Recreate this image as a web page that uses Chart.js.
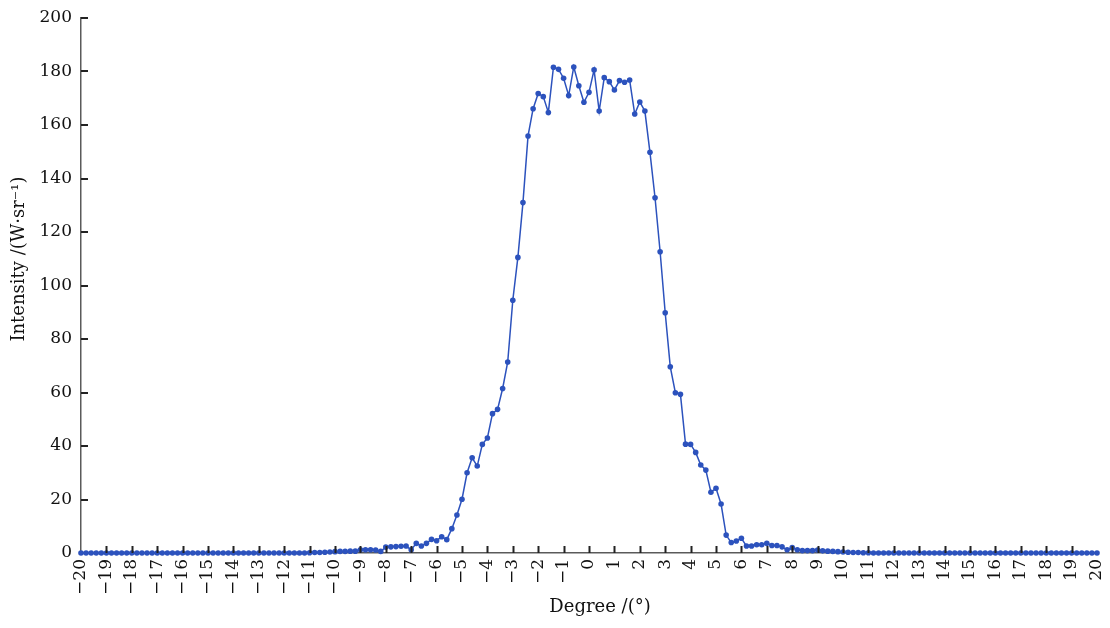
<!DOCTYPE html>
<html>
<head>
<meta charset="utf-8">
<title>Intensity vs degree</title>
<script src="https://cdn.jsdelivr.net/npm/chart.js@4.4.1/dist/chart.umd.min.js"></script>
<style>
  html, body { margin: 0; padding: 0; background: #fff; }
  #wrap { width: 1110px; height: 628px; }
</style>
</head>
<body>
<div id="wrap"><canvas id="chart" width="1110" height="628"></canvas></div>
<script>
// sampling grid: -20° .. 20°, every 0.2°
const degreeMin = -20;
const degreeMax = 20;
const degreeStep = 0.2;

// measured intensity, W/sr
const zerosLeft = [
  0, 0, 0, 0, 0, 0, 0, 0, 0, 0, 0, 0, 0, 0, 0,
  0, 0, 0, 0, 0, 0, 0, 0, 0, 0, 0, 0, 0, 0, 0,
  0, 0, 0, 0, 0, 0, 0, 0, 0, 0, 0, 0, 0, 0, 0
]; // -20.0 .. -11.2
const intensityCore = [
  0.1, 0.2, 0.2, 0.3, 0.4,            // -11.0 .. -10.2
  0.5, 0.6, 0.6, 0.7, 0.7,            // -10.0 .. -9.2
  1.2, 1.2, 1.2, 1.1, 0.6,            // -9.0 .. -8.2
  2.2, 2.3, 2.4, 2.5, 2.6,            // -8.0 .. -7.2
  1.2, 3.6, 2.6, 3.6, 5.1,            // -7.0 .. -6.2
  4.6, 6.1, 5.0, 9.1, 14.2,           // -6.0 .. -5.2
  20.1, 30.0, 35.6, 32.5, 40.6,       // -5.0 .. -4.2
  43.0, 52.1, 53.7, 61.5, 71.4,       // -4.0 .. -3.2
  94.5, 110.5,                        // -3.0 .. -2.8
  131.0, 155.9, 166.1, 171.8, 170.6,  // -2.6 .. -1.8
  164.7, 181.6, 180.8, 177.5, 171.0,  // -1.6 .. -0.8
  181.7, 174.7, 168.5, 172.2, 180.6,  // -0.6 .. 0.2
  165.2, 177.7, 176.2, 173.1, 176.6,  // 0.4 .. 1.2
  176.0, 176.8, 164.1, 168.6, 165.2,  // 1.4 .. 2.2
  149.8, 132.8,                       // 2.4 .. 2.6
  112.6, 89.8, 69.6, 59.9, 59.3,      // 2.8 .. 3.6
  40.7, 40.6, 37.6, 32.9, 31.0,       // 3.8 .. 4.6
  22.7, 24.2, 18.3, 6.7, 3.9,         // 4.8 .. 5.6
  4.5, 5.5, 2.6, 2.6, 3.1,            // 5.8 .. 6.6
  3.1, 3.6, 2.8, 2.8, 2.3,            // 6.8 .. 7.6
  1.2, 2.0, 1.2, 0.9, 0.9,            // 7.8 .. 8.6
  0.9, 1.1, 0.8, 0.7, 0.6,            // 8.8 .. 9.6
  0.5, 0.4, 0.3, 0.2, 0.2,            // 9.8 .. 10.6
  0.1, 0.1                            // 10.8 .. 11.0
];
const zerosRight = [
  0, 0, 0, 0, 0, 0, 0, 0, 0, 0, 0, 0, 0, 0, 0,
  0, 0, 0, 0, 0, 0, 0, 0, 0, 0, 0, 0, 0, 0, 0,
  0, 0, 0, 0, 0, 0, 0, 0, 0, 0, 0, 0, 0, 0, 0
]; // 11.2 .. 20.0
const intensity = zerosLeft.concat(intensityCore, zerosRight);

const yTitle = 'Intensity /(W\u00b7sr\u207b\u00b9)';
const xTitle = 'Degree /(\u00b0)';

const serif = '"DejaVu Serif", "Liberation Serif", serif';
const lineColor = '#2c52bd';
const axisColor = '#5a5a5a';

const points = intensity.map((v, i) => ({
  x: Math.round((degreeMin + i * degreeStep) * 10) / 10,
  y: v
}));

// short tick marks pointing into the plot, plus the two axis titles
const innerTicks = {
  id: 'innerTicks',
  afterDraw(chart) {
    const { ctx, chartArea, scales } = chart;
    ctx.save();
    ctx.strokeStyle = '#222';
    ctx.lineWidth = 2;
    ctx.beginPath();
    scales.x.ticks.forEach(t => {
      if (t.value === degreeMin || t.value === degreeMax) return;
      const px = Math.round(scales.x.getPixelForValue(t.value)) + 0.5;
      ctx.moveTo(px, chartArea.bottom);
      ctx.lineTo(px, chartArea.bottom - 7);
    });
    scales.y.ticks.forEach(t => {
      if (t.value === 0) return;
      const py = Math.round(scales.y.getPixelForValue(t.value));
      ctx.moveTo(chartArea.left, py);
      ctx.lineTo(chartArea.left + 7, py);
    });
    ctx.stroke();

    ctx.fillStyle = '#111';
    ctx.font = '18px ' + serif;
    ctx.textAlign = 'center';
    ctx.textBaseline = 'middle';
    ctx.fillText(xTitle, 600, 607);
    ctx.translate(19, 259);
    ctx.rotate(-Math.PI / 2);
    ctx.fillText(yTitle, 0, 0);
    ctx.restore();
  }
};

new Chart(document.getElementById('chart'), {
  type: 'line',
  data: {
    datasets: [{
      data: points,
      borderColor: lineColor,
      backgroundColor: lineColor,
      borderWidth: 1.5,
      pointRadius: 2.8,
      pointBorderWidth: 0,
      pointHoverRadius: 3,
      tension: 0,
      clip: false
    }]
  },
  options: {
    responsive: false,
    animation: false,
    layout: { padding: { left: 0, top: 18, right: 13, bottom: 0 } },
    plugins: {
      legend: { display: false },
      tooltip: { enabled: false }
    },
    scales: {
      x: {
        type: 'linear',
        min: degreeMin,
        max: degreeMax,
        border: { display: true, color: axisColor, width: 1.5 },
        grid: { display: false, drawTicks: false },
        ticks: {
          stepSize: 1,
          autoSkip: false,
          maxRotation: 90,
          minRotation: 90,
          padding: 6,
          color: '#111',
          font: { family: serif, size: 17 },
          callback: v => String(v).replace('-', '\u2212')
        },
        afterFit(scale) {
          scale.height = 75;
          scale.paddingLeft = 0;
          scale.paddingRight = 0;
        }
      },
      y: {
        min: 0,
        max: 200,
        border: { display: true, color: axisColor, width: 1.5 },
        grid: { display: false, drawTicks: false },
        ticks: {
          stepSize: 20,
          padding: 9,
          color: '#111',
          font: { family: serif, size: 17 }
        },
        afterFit(scale) {
          scale.width = 81;
          scale.paddingTop = 0;
          scale.paddingBottom = 0;
        }
      }
    }
  },
  plugins: [innerTicks]
});
</script>
</body>
</html>
